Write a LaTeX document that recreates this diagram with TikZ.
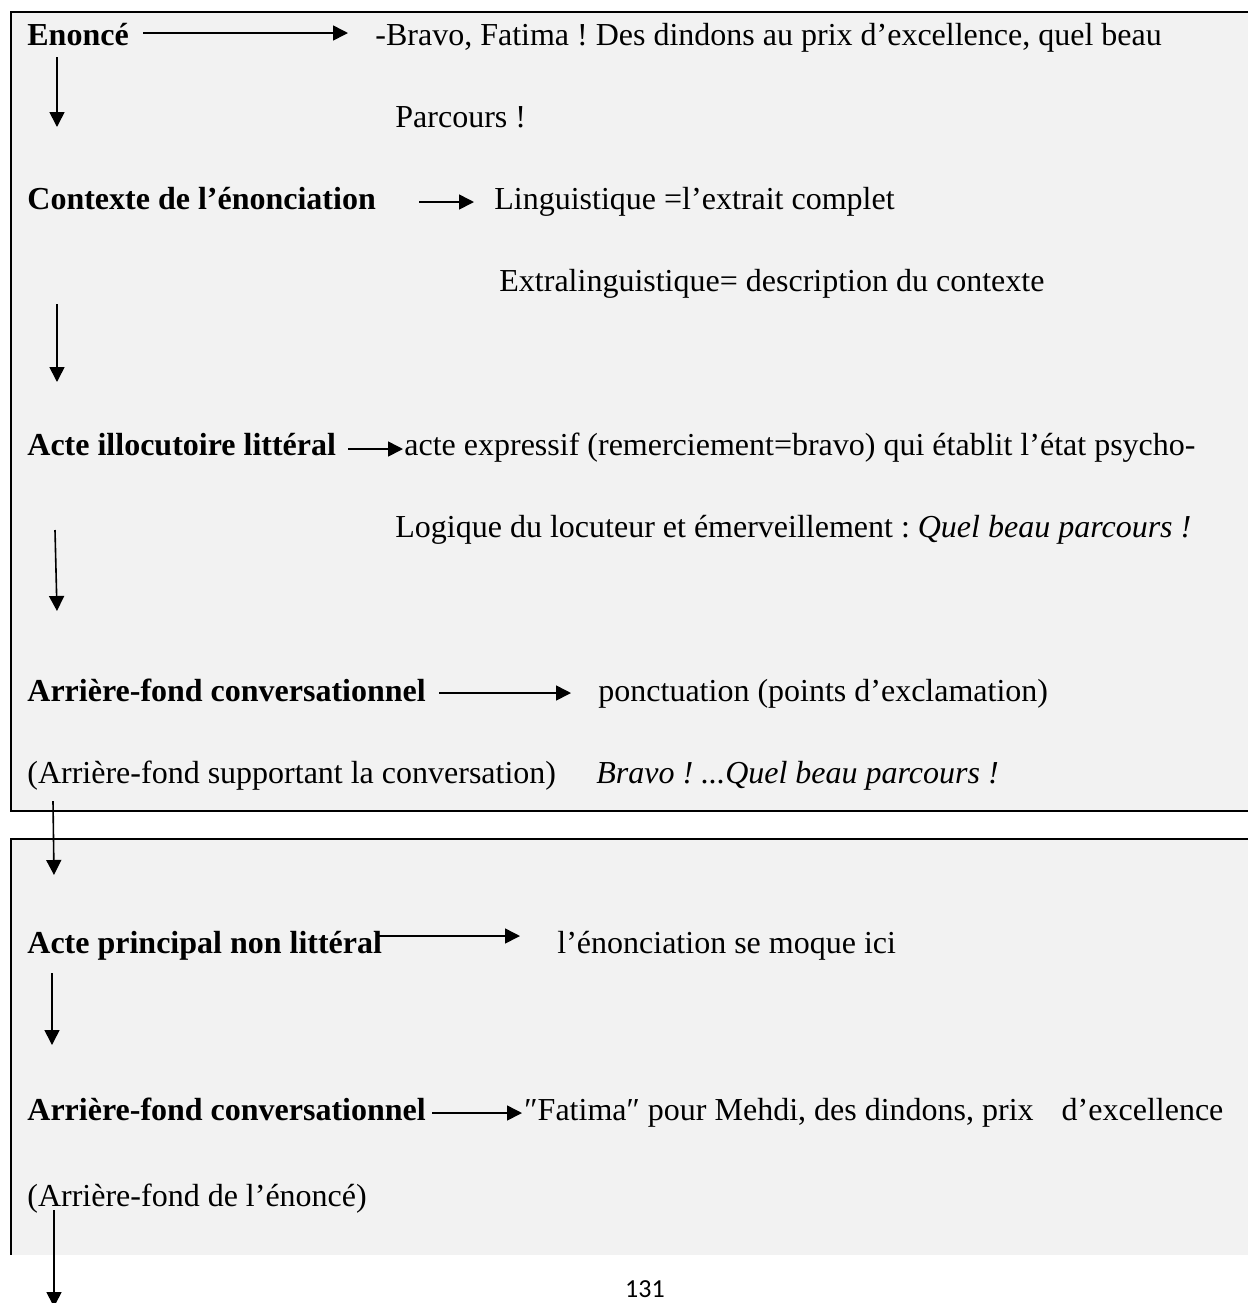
\documentclass[tikz,border=0pt]{standalone}
\usepackage{fontspec}
\setmainfont{Liberation Serif}
\newfontfamily\pagefont{Carlito}
\usetikzlibrary{arrows.meta}
\definecolor{boxgray}{RGB}{242,242,242}
\frenchspacing
\begin{document}
\begin{tikzpicture}[x=0.5pt,y=-0.5pt,
  txt/.style={anchor=base west, inner sep=0pt, font=\fontsize{16}{19}\selectfont},
  hd/.style={anchor=base west, inner sep=0pt, font=\fontsize{16}{19}\selectfont\bfseries},
  conn/.style={line width=0.8pt, -{Triangle[length=7.5pt,width=7.5pt]}},
  frameline/.style={line width=1pt}]
\useasboundingbox (0,0) rectangle (1248,1303);
\begin{scope}
\clip (0,0) rectangle (1248,1303);
% boxes
\fill[boxgray] (11,12) rectangle (1270,811);
\draw[frameline] (1270,12) -- (11,12) -- (11,811) -- (1270,811);
\fill[boxgray] (11,839) rectangle (1270,1255);
\draw[frameline] (1270,839) -- (11,839) -- (11,1255);

% texts, box 1
\node[hd]  (enonce) at (27,45) {Enoncé};
\node[txt] (bravo)  at (375,45) {-Bravo, Fatima ! Des dindons au prix d’excellence, quel beau};
\node[txt] (parc)   at (395,127) {Parcours !};
\node[hd]  (ctx)    at (27,209) {Contexte de l’énonciation};
\node[txt] (ling)   at (494,209) {Linguistique =l’extrait complet};
\node[txt] (extra)  at (499,291) {Extralinguistique= description du contexte};
\node[hd]  (illoc)  at (27,455) {Acte illocutoire littéral};
\node[txt] (expr)   at (404,455) {acte expressif (remerciement=bravo) qui établit l’état psycho-};
\node[txt] (logi)   at (395,537) {Logique du locuteur et émerveillement : \textit{Quel beau parcours !}};
\node[hd]  (afc1)   at (27,701) {Arrière-fond conversationnel};
\node[txt] (ponct)  at (598,701) {ponctuation (points d’exclamation)};
\node[txt] (afs)    at (27,783) {(Arrière-fond supportant la conversation)};
\node[txt] (brit)   at (596,783) {\textit{Bravo ! ...Quel beau parcours !}};

% texts, box 2
\node[hd]  (princ)  at (27,953) {Acte principal non littéral};
\node[txt] (moque)  at (557,953) {l’énonciation se moque ici};
\node[hd]  (afc2)   at (27,1120) {Arrière-fond conversationnel};
\node[txt] (fati)   at (524,1120) {″Fatima″ pour Mehdi, des dindons, prix\hspace{14pt}d’excellence};
\node[txt] (afe)    at (27,1206) {(Arrière-fond de l’énoncé)};

% page number
\node[anchor=base, inner sep=0pt, font=\pagefont\fontsize{13}{15}\selectfont] (pnum) at (645,1297) {131};

% arrow end points
\coordinate (h1s) at (143,33);   \coordinate (h1e) at (348,33);
\coordinate (h2s) at (419,202);  \coordinate (h2e) at (474,202);
\coordinate (h3s) at (348,449);  \coordinate (h3e) at (403,449);
\coordinate (h4s) at (439,693);  \coordinate (h4e) at (571,693);
\coordinate (h5s) at (379,936);  \coordinate (h5e) at (520,936);
\coordinate (h6s) at (432,1113); \coordinate (h6e) at (522,1113);
\coordinate (v1s) at (57,57);    \coordinate (v1e) at (57,127);
\coordinate (v2s) at (57,304);   \coordinate (v2e) at (57,382);
\coordinate (v3s) at (55,530);   \coordinate (v3e) at (57,611);
\coordinate (v4s) at (53,801);   \coordinate (v4e) at (54,875);
\coordinate (v5s) at (52,973);   \coordinate (v5e) at (52,1045);
\coordinate (v6s) at (54,1210);  \coordinate (v6e) at (54,1307);

\foreach \a in {h1,h2,h3,h4,h5,h6,v1,v2,v3,v4,v5,v6}
  \draw[conn] (\a s) -- (\a e);
\end{scope}
\end{tikzpicture}
\end{document}
